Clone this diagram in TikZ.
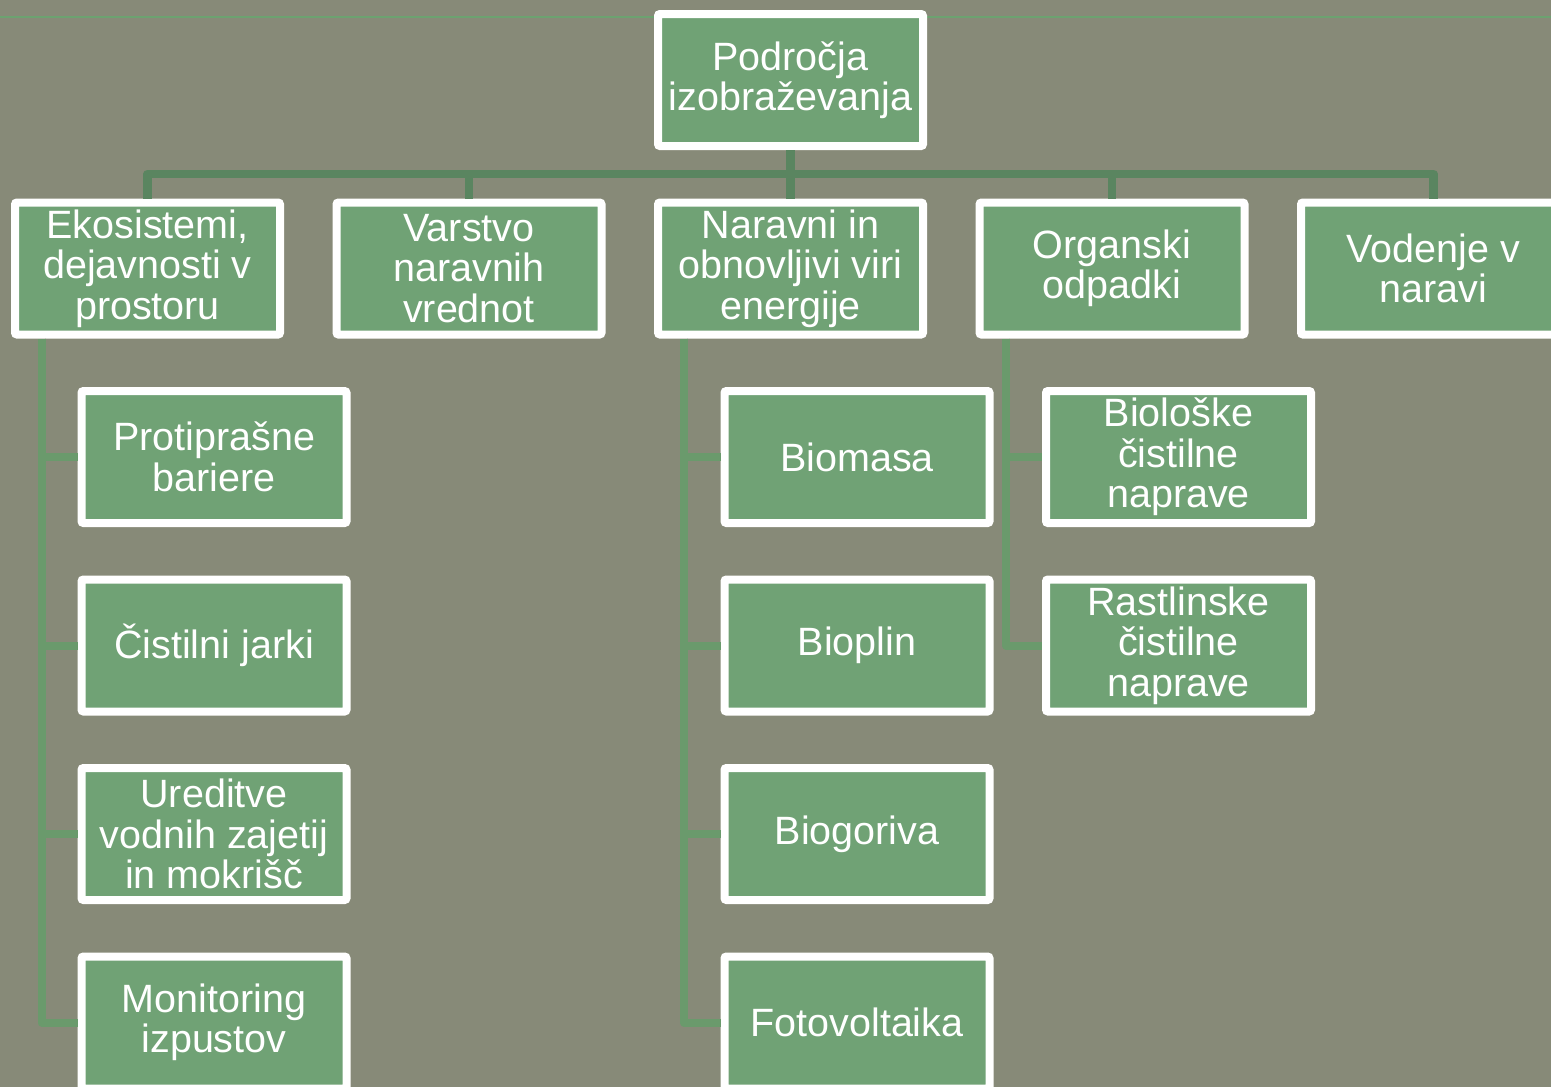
\documentclass[tikz,border=0pt]{standalone}
\usepackage{fontspec}
\setmainfont{Liberation Sans}
\definecolor{bgcol}{HTML}{878A78}
\definecolor{boxfill}{HTML}{70A275}
\definecolor{buscol}{HTML}{5A8560}
\definecolor{kidcol}{HTML}{6A9A6C}
\definecolor{topline}{HTML}{6CA270}
\tikzset{
  orgbox/.style={draw=white, fill=boxfill, line width=8pt, rounded corners=2pt,
    minimum width=265pt, minimum height=132pt, inner sep=0pt, align=center,
    text=white, font=\fontsize{39.5}{40.5}\selectfont},
  busline/.style={draw=buscol, line width=8.5pt, line join=round},
  kidline/.style={draw=kidcol, line width=8pt, line join=round},
}
\begin{document}
\begin{tikzpicture}[x=1pt,y=-1pt]
\useasboundingbox (0,0) rectangle (1551,1087);
\clip (0,0) rectangle (1551,1087);
\fill[bgcol] (0,0) rectangle (1551,1087);
\draw[topline, line width=2pt] (0,16.5) -- (1551,16.5);

\node[orgbox] (root) at (790.5,80) {Področja\\izobraževanja};

\node[orgbox] (eko) at (147.5,268.5) {Ekosistemi,\\dejavnosti v\\prostoru};
\node[orgbox] (var) at (469,268.5) {Varstvo\\naravnih\\vrednot};
\node[orgbox] (nar) at (790.5,268.5) {Naravni in\\obnovljivi viri\\energije};
\node[orgbox] (org) at (1112,268.5) {Organski\\odpadki};
\node[orgbox] (vod) at (1433.5,268.5) {Vodenje v\\naravi};

\node[orgbox] (e1) at (214,457) {Protiprašne\\bariere};
\node[orgbox] (e2) at (214,645.5) {Čistilni jarki};
\node[orgbox] (e3) at (214,834) {Ureditve\\vodnih zajetij\\in mokrišč};
\node[orgbox] (e4) at (214,1022.5) {Monitoring\\izpustov};

\node[orgbox] (n1) at (857,457) {Biomasa};
\node[orgbox] (n2) at (857,645.5) {Bioplin};
\node[orgbox] (n3) at (857,834) {Biogoriva};
\node[orgbox] (n4) at (857,1022.5) {Fotovoltaika};

\node[orgbox] (o1) at (1178.5,457) {Biološke\\čistilne\\naprave};
\node[orgbox] (o2) at (1178.5,645.5) {Rastlinske\\čistilne\\naprave};

\coordinate (busy) at (0,174);
\draw[busline] (root.south) -- (root |- busy);
\draw[busline] (eko.north) -- (eko |- busy) -- (vod |- busy) -- (vod.north);
\draw[busline] (var.north) -- (var |- busy);
\draw[busline] (nar.north) -- (nar |- busy);
\draw[busline] (org.north) -- (org |- busy);

\draw[kidline] ([xshift=30.5pt]eko.south west) |- (e4.west);
\draw[kidline] ([xshift=30.5pt]eko.south west) |- (e1.west);
\draw[kidline] ([xshift=30.5pt]eko.south west) |- (e2.west);
\draw[kidline] ([xshift=30.5pt]eko.south west) |- (e3.west);

\draw[kidline] ([xshift=30pt]nar.south west) |- (n4.west);
\draw[kidline] ([xshift=30pt]nar.south west) |- (n1.west);
\draw[kidline] ([xshift=30pt]nar.south west) |- (n2.west);
\draw[kidline] ([xshift=30pt]nar.south west) |- (n3.west);

\draw[kidline] ([xshift=30.5pt]org.south west) |- (o2.west);
\draw[kidline] ([xshift=30.5pt]org.south west) |- (o1.west);
\end{tikzpicture}
\end{document}
